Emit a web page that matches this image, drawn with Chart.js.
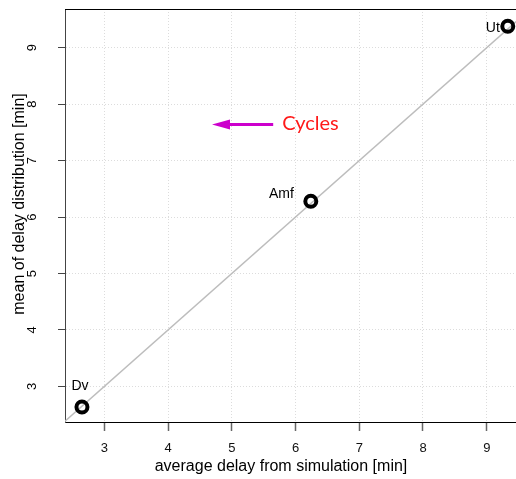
<!DOCTYPE html>
<html>
<head>
<meta charset="utf-8">
<script src="https://cdn.jsdelivr.net/npm/chart.js@4.4.1/dist/chart.umd.min.js"></script>
<style>
  html, body { margin: 0; padding: 0; background: #fff; overflow: hidden; }
</style>
</head>
<body>
<canvas id="chart" width="516" height="479"></canvas>
<script>
// data
const pointNames = ["Dv", "Amf", "Ut"];
const simDelay = [2.65, 6.24, 9.33];   // x: average delay from simulation
const distMean = [2.635, 6.28, 9.38];  // y: mean of delay distribution
const xTicks = [3, 4, 5, 6, 7, 8, 9];
const yTicks = [3, 4, 5, 6, 7, 8, 9];
const diagonal = [2.3, 9.8];           // y = x reference line
const arrowX = [5.65, 4.69];           // tail, tip
const arrowY = [7.64, 7.64];
const noteText = "Cycles";

const xTitle = "average delay from simulation [min]";
const yTitle = "mean of delay distribution [min]";

// label placement, relative to each point (pixels)
const labelPlace = [
  { align: "center", dx: -2, dy: -17 },
  { align: "right", dx: -17, dy: -3 },
  { align: "right", dx: -8, dy: 6 }
];

const baseFont = "'Liberation Sans', Arial, Helvetica, sans-serif";

const extras = {
  id: "extras",
  afterDatasetsDraw(chart) {
    const ctx = chart.ctx;
    const area = chart.chartArea;
    const xs = chart.scales.x;
    const ys = chart.scales.y;

    // top frame line
    ctx.save();
    ctx.strokeStyle = "#000";
    ctx.lineWidth = 1;
    ctx.beginPath();
    ctx.moveTo(area.left, Math.round(area.top) + 0.5);
    ctx.lineTo(area.right, Math.round(area.top) + 0.5);
    ctx.stroke();

    // point labels
    ctx.fillStyle = "#000";
    ctx.font = "14px " + baseFont;
    ctx.textBaseline = "alphabetic";
    pointNames.forEach((name, i) => {
      const px = xs.getPixelForValue(simDelay[i]);
      const py = ys.getPixelForValue(distMean[i]);
      const p = labelPlace[i];
      ctx.textAlign = p.align;
      ctx.fillText(name, px + p.dx, py + p.dy);
    });

    // arrow
    const tx = xs.getPixelForValue(arrowX[0]);
    const hx = xs.getPixelForValue(arrowX[1]);
    const ay = ys.getPixelForValue(arrowY[0]);
    ctx.strokeStyle = "#cc00cc";
    ctx.fillStyle = "#cc00cc";
    ctx.lineWidth = 3;
    ctx.beginPath();
    ctx.moveTo(tx, ay);
    ctx.lineTo(hx + 14, ay);
    ctx.stroke();
    ctx.beginPath();
    ctx.moveTo(hx, ay);
    ctx.lineTo(hx + 18, ay - 5);
    ctx.lineTo(hx + 18, ay + 5);
    ctx.closePath();
    ctx.fill();

    ctx.fillStyle = "#ff1a1a";
    ctx.font = "20px Lato, 'Open Sans', sans-serif";
    ctx.textAlign = "left";
    ctx.fillText(noteText, tx + 9, ay + 6);
    ctx.restore();
  },
  afterDraw(chart) {
    const ctx = chart.ctx;
    const ys = chart.scales.y;
    ctx.save();
    ctx.fillStyle = "#000";

    // y tick labels, rotated like the y title
    ctx.font = "13px " + baseFont;
    ctx.textAlign = "center";
    ctx.textBaseline = "alphabetic";
    ys.ticks.forEach(t => {
      const py = ys.getPixelForValue(t.value);
      ctx.save();
      ctx.translate(36, py);
      ctx.rotate(-Math.PI / 2);
      ctx.fillText(String(t.value), 0, 0);
      ctx.restore();
    });

    // axis titles
    ctx.font = "16px " + baseFont;
    ctx.fillText(xTitle, 281, 471);
    ctx.save();
    ctx.translate(24, 204);
    ctx.rotate(-Math.PI / 2);
    ctx.fillText(yTitle, 0, 0);
    ctx.restore();
    ctx.restore();
  }
};

new Chart(document.getElementById("chart"), {
  type: "scatter",
  data: {
    datasets: [
      {
        label: "stations",
        data: simDelay.map((x, i) => ({ x: x, y: distMean[i] })),
        borderColor: "#000",
        backgroundColor: "rgba(0,0,0,0)",
        pointRadius: 5.5,
        borderWidth: 4,
        clip: false
      },
      {
        label: "y = x",
        data: diagonal.map(v => ({ x: v, y: v })),
        showLine: true,
        borderColor: "#bdbdbd",
        borderWidth: 1.5,
        pointRadius: 0
      }
    ]
  },
  options: {
    responsive: false,
    devicePixelRatio: 1,
    animation: false,
    events: [],
    layout: { autoPadding: false, padding: { top: 9, left: 0, right: 0, bottom: 0 } },
    plugins: {
      legend: { display: false },
      tooltip: { enabled: false }
    },
    scales: {
      x: {
        type: "linear",
        min: 2.384,
        max: 9.459,
        afterBuildTicks: s => { s.ticks = xTicks.map(v => ({ value: v })); },
        afterFit: s => { s.height = 57; },
        grid: {
          color: "#dcdcdc",
          tickColor: "#666",
          tickLength: 9,
          tickWidth: 1.5
        },
        border: { color: "#000", width: 1, dash: [1, 2] },
        ticks: {
          color: "#111",
          padding: 10,
          maxRotation: 0,
          font: { size: 13, family: baseFont }
        }
      },
      y: {
        type: "linear",
        min: 2.37,
        max: 9.685,
        afterBuildTicks: s => { s.ticks = yTicks.map(v => ({ value: v })); },
        afterFit: s => { s.width = 65; },
        grid: {
          color: "#dcdcdc",
          tickColor: "#444",
          tickLength: 7,
          tickWidth: 1
        },
        border: { color: "#444", width: 1, dash: [1, 2] },
        ticks: { display: false }
      }
    }
  },
  plugins: [extras]
});
</script>
</body>
</html>
